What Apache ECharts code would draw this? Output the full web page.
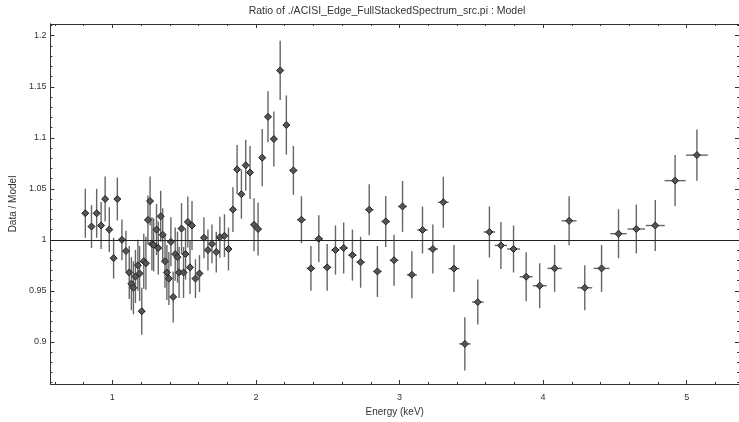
<!DOCTYPE html>
<html><head><meta charset="utf-8">
<script src="https://cdn.jsdelivr.net/npm/echarts@6/dist/echarts.min.js"></script>
<style>html,body{margin:0;padding:0;background:#fff}#c{width:739px;height:422px}</style>
</head><body><div id="c"></div>
<script>
const energy = [0.812,0.855,0.891,0.922,0.950,0.979,1.009,1.035,1.067,1.095,
1.118,1.133,1.147,1.161,1.178,1.190,1.205,1.219,1.234,1.248,
1.263,1.276,1.288,1.308,1.320,1.337,1.351,1.367,1.380,1.394,
1.408,1.424,1.438,1.454,1.465,1.482,1.496,1.510,1.526,1.541,
1.555,1.579,1.607,1.638,1.666,1.694,1.724,1.749,1.781,1.809,
1.840,1.869,1.899,1.929,1.959,1.987,2.015,2.044,2.084,2.125,
2.169,2.212,2.261,2.317,2.383,2.438,2.496,2.554,2.611,2.672,
2.729,2.789,2.846,2.904,2.962,3.021,3.086,3.160,3.232,3.305,
3.379,3.455,3.545,3.626,3.706,3.794,3.882,3.976,4.080,4.181,
4.290,4.407,4.525,4.649,4.781,4.919,5.071];
const ratio = [1.026,1.013,1.026,1.014,1.040,1.010,0.982,1.040,1.000,0.989,
0.968,0.957,0.953,0.964,0.975,0.967,0.930,0.979,0.977,1.0195,
1.038,0.996,0.995,1.010,0.992,1.023,1.005,0.979,0.968,0.962,
0.998,0.944,0.986,0.983,0.968,1.011,0.968,0.986,1.0175,0.973,
1.014,0.962,0.967,1.002,0.990,0.996,0.988,1.0025,1.004,0.991,
1.0296,1.069,1.0447,1.073,1.066,1.0147,1.0106,1.0805,1.1205,1.0988,
1.166,1.1125,1.068,1.0197,0.972,1.001,0.973,0.990,0.992,0.985,
0.978,1.0295,0.969,1.018,0.980,1.0327,0.9657,1.0096,0.991,1.0368,
0.9718,0.898,0.939,1.0077,0.9945,0.991,0.9638,0.955,0.972,1.0186,
0.953,0.972,1.006,1.0106,1.014,1.058,1.083];
const ratioErr = [0.024,0.021,0.024,0.023,0.022,0.022,0.020,0.021,0.020,0.020,
0.026,0.026,0.026,0.026,0.025,0.027,0.023,0.027,0.026,0.024,
0.024,0.026,0.026,0.025,0.026,0.025,0.026,0.026,0.027,0.026,
0.024,0.025,0.026,0.025,0.025,0.025,0.025,0.025,0.025,0.026,
0.024,0.019,0.018,0.020,0.020,0.019,0.020,0.020,0.021,0.021,
0.022,0.024,0.024,0.025,0.026,0.026,0.026,0.028,0.025,0.027,
0.029,0.029,0.024,0.023,0.022,0.023,0.023,0.024,0.025,0.025,
0.025,0.025,0.025,0.025,0.025,0.025,0.023,0.023,0.024,0.025,
0.023,0.026,0.022,0.025,0.023,0.023,0.024,0.022,0.023,0.024,
0.022,0.023,0.024,0.024,0.025,0.025,0.025];
const energyErr = [0.020,0.020,0.017,0.015,0.014,0.015,0.015,0.014,0.015,0.013,
0.010,0.008,0.007,0.008,0.008,0.007,0.007,0.007,0.008,0.007,
0.007,0.006,0.008,0.009,0.008,0.008,0.008,0.008,0.007,0.007,
0.007,0.008,0.008,0.007,0.008,0.008,0.007,0.007,0.008,0.007,
0.010,0.013,0.014,0.015,0.014,0.014,0.014,0.015,0.015,0.015,
0.015,0.015,0.015,0.015,0.014,0.014,0.014,0.018,0.020,0.022,
0.022,0.022,0.027,0.030,0.030,0.028,0.029,0.029,0.030,0.029,
0.029,0.029,0.029,0.029,0.030,0.031,0.035,0.037,0.036,0.037,
0.038,0.040,0.041,0.040,0.043,0.045,0.045,0.048,0.050,0.052,
0.052,0.055,0.057,0.061,0.066,0.073,0.076];

const xMajorTicks = [1,2,3,4,5];
const xMinorTicks = [0.6,0.8,1.2,1.4,1.6,1.8,2.2,2.4,2.6,2.8,3.2,3.4,3.6,3.8,4.2,4.4,4.6,4.8,5.2];
const yMajorTicks = [0.9,0.95,1,1.05,1.1,1.15,1.2];
const yMinorTicks = [0.86,0.87,0.88,0.89,0.91,0.92,0.93,0.94,0.96,0.97,0.98,0.99,
1.01,1.02,1.03,1.04,1.06,1.07,1.08,1.09,1.11,1.12,1.13,1.14,1.16,1.17,1.18,1.19,1.21];

const XMIN = 0.569, XMAX = 5.364, YMIN = 0.8587, YMAX = 1.2115;
const FONT = 'Liberation Sans';
const AX = '#333';

const points = energy.map((e, i) => [e, ratio[i], energyErr[i], ratioErr[i]]);

function xAx(pos, ticks, len, labels, extra) {
  return Object.assign({
    type: 'value', min: XMIN, max: XMAX, position: pos,
    axisLine: { show: true, onZero: false, lineStyle: { color: AX, width: 1 } },
    axisTick: { show: true, inside: true, length: len, customValues: ticks, lineStyle: { color: AX, width: 1 } },
    axisLabel: labels ? { show: true, customValues: ticks, fontSize: 9, color: '#333', fontFamily: FONT, margin: 9 } : { show: false },
    splitLine: { show: false }
  }, extra || {});
}
function yAx(pos, ticks, len, labels, extra) {
  return Object.assign({
    type: 'value', min: YMIN, max: YMAX, position: pos,
    axisLine: { show: true, onZero: false, lineStyle: { color: AX, width: 1 } },
    axisTick: { show: true, inside: true, length: len, customValues: ticks, lineStyle: { color: AX, width: 1 } },
    axisLabel: labels ? { show: true, customValues: ticks, fontSize: 9, color: '#333', fontFamily: FONT, margin: 4,
      formatter: v => String(+v.toFixed(2)) } : { show: false },
    splitLine: { show: false }
  }, extra || {});
}

const chart = echarts.init(document.getElementById('c'), null, { renderer: 'canvas' });
chart.setOption({
  animation: false,
  backgroundColor: '#fff',
  graphic: [{
    type: 'text', x: 387, y: 6,
    style: { text: 'Ratio of ./ACISI_Edge_FullStackedSpectrum_src.pi : Model', font: '10.5px "Liberation Sans"', fill: '#333', align: 'center', verticalAlign: 'top' }
  }],
  grid: { left: 47, right: -1, top: 24, bottom: 32, containLabel: false },
  xAxis: [
    xAx('bottom', xMajorTicks, 4, true, { name: 'Energy (keV)', nameLocation: 'middle', nameGap: 23,
      nameTextStyle: { fontSize: 10, color: '#333', fontFamily: FONT } }),
    xAx('bottom', xMinorTicks, 2, false),
    xAx('top', xMajorTicks, 4, false),
    xAx('top', xMinorTicks, 2, false)
  ],
  yAxis: [
    yAx('left', yMajorTicks, 4, true, { name: 'Data / Model', nameLocation: 'middle', nameGap: 27,
      nameTextStyle: { fontSize: 10, color: '#333', fontFamily: FONT } }),
    yAx('left', yMinorTicks, 2, false),
    yAx('right', yMajorTicks, 4, false),
    yAx('right', yMinorTicks, 2, false)
  ],
  series: [
    {
      type: 'custom', xAxisIndex: 0, yAxisIndex: 0, data: points, clip: true, z: 2,
      renderItem: function (params, api) {
        const x = api.value(0), y = api.value(1), xe = api.value(2), ye = api.value(3);
        const lo = api.coord([x, y - ye]), hi = api.coord([x, y + ye]);
        const l = api.coord([x - xe, y]), r = api.coord([x + xe, y]);
        return {
          type: 'group', children: [
            { type: 'line', shape: { x1: lo[0], y1: lo[1], x2: hi[0], y2: hi[1] }, style: { stroke: '#666', lineWidth: 1.4 } },
            { type: 'line', shape: { x1: l[0], y1: l[1], x2: r[0], y2: r[1] }, style: { stroke: '#666', lineWidth: 1.4 } }
          ]
        };
      }
    },
    {
      type: 'scatter', xAxisIndex: 0, yAxisIndex: 0, z: 3,
      data: points.map(p => [p[0], p[1]]),
      symbol: 'diamond', symbolSize: 7,
      itemStyle: { color: '#555', borderColor: '#222', borderWidth: 1, opacity: 1 },
      markLine: {
        silent: true, symbol: ['none', 'none'], label: { show: false },
        lineStyle: { color: '#222', width: 1, type: 'solid' },
        data: [{ yAxis: 1 }]
      }
    }
  ]
});
</script>
</body></html>
